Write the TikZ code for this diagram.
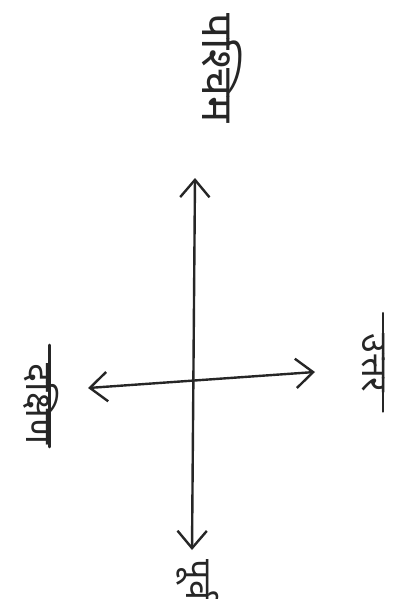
\documentclass[tikz,border=0pt]{standalone}
\usepackage{fontspec}
\newfontfamily\hindi[Script=Devanagari]{Noto Sans}
\usetikzlibrary{arrows.meta}

\begin{document}
\begin{tikzpicture}[x=0.75pt, y=-0.75pt, pen/.style={line width=1.8pt, draw=black!85, line cap=round}, arr/.style={pen, {Straight Barb[length=13pt,width=22pt]}-{Straight Barb[length=13pt,width=22pt]}}, dir/.style={font=\hindi\bfseries\fontsize{27}{30}\selectfont, rotate=-90, inner sep=0pt, text=black!85}]
\useasboundingbox (0,0) rectangle (418,599);
% arrow ends
\coordinate (tipW) at (195,178);
\coordinate (tipE) at (192,550);
\coordinate (tipN) at (315,372);
\coordinate (tipS) at (88,388);
% direction names
\node[dir, font=\hindi\bfseries\fontsize{33}{36}\selectfont] (west) at (222,68) {पश्चिम};
\node[dir] (north) at (373,363) {उत्तर};
\node[dir] (south) at (41,404) {दक्षिण};
\node[dir] (east) at (198,580) {पूर्व};
% long head strokes
\draw[pen, shorten <=-15pt, shorten >=-14pt] ([xshift=-1.5pt]north.north west) -- ([xshift=-1.5pt]north.north east);
\draw[pen, shorten <=-14pt, shorten >=-2pt] ([xshift=-7pt]south.north west) -- ([xshift=-7pt]south.north east);
\draw[arr] (tipW) -- (tipE);
\draw[arr] (tipS) -- (tipN);
\end{tikzpicture}
\end{document}
